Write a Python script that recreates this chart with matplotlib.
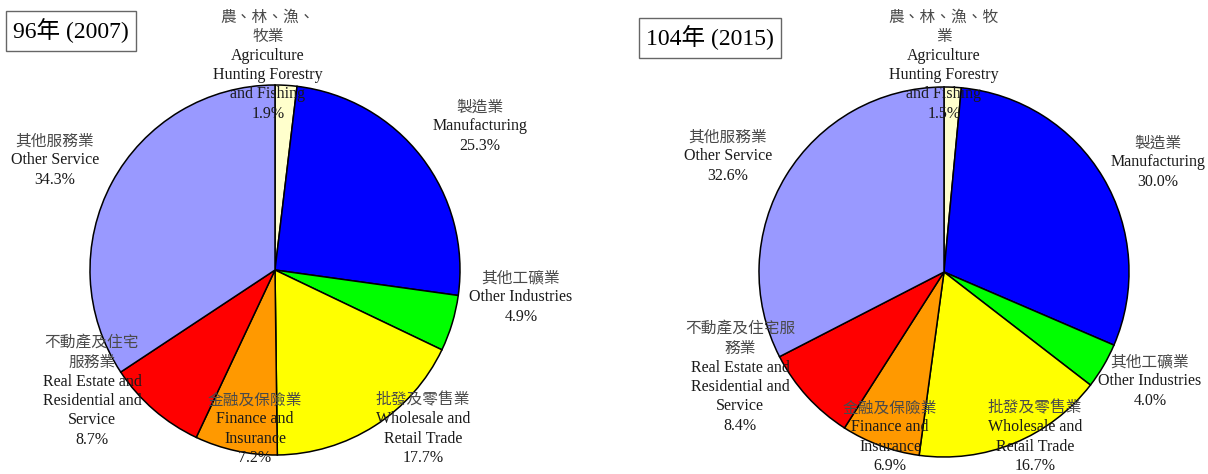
import matplotlib
matplotlib.use('Agg')
import matplotlib.pyplot as plt

# industry shares (%), clockwise from 12 o'clock
values_2007 = [1.9, 25.3, 4.9, 17.7, 7.2, 8.7, 34.3]
values_2015 = [1.5, 30.0, 4.0, 16.7, 6.9, 8.4, 32.6]
colors = ['#FFFFCC', '#0000FF', '#00FF00', '#FFFF00', '#FF9900', '#FF0000', '#9999FF']

zh_2007 = [['農、林、漁、', '牧業'], ['製造業'], ['其他工礦業'], ['批發及零售業'],
           ['金融及保險業'], ['不動產及住宅', '服務業'], ['其他服務業']]
zh_2015 = [['農、林、漁、牧', '業'], ['製造業'], ['其他工礦業'], ['批發及零售業'],
           ['金融及保險業'], ['不動產及住宅服', '務業'], ['其他服務業']]
en_names = [['Agriculture', 'Hunting Forestry', 'and Fishing'], ['Manufacturing'],
            ['Other Industries'], ['Wholesale and', 'Retail Trade'],
            ['Finance and', 'Insurance'], ['Real Estate and', 'Residential and', 'Service'],
            ['Other Service']]
titles = ['96年 (2007)', '104年 (2015)']

W, H = 1208, 474
fig = plt.figure(figsize=(W / 100, H / 100), dpi=100)
ax = fig.add_axes([0, 0, 1, 1])

# label anchors (x, y of first line, in pixels from top-left)
pos_2007 = [(268, 17), (480, 107), (521, 278), (423, 400), (255, 400), (92, 343), (55, 141)]
pos_2015 = [(944, 17), (1158, 143), (1150, 362), (1035, 408), (890, 408), (740, 329), (728, 137)]

cjk = ['Noto Sans CJK TC', 'DejaVu Sans']
serif = ['Liberation Serif', 'Noto Sans CJK TC']


def draw(vals, zh, pos, center, title, tpos):
    ax.pie(vals, colors=colors, startangle=90, counterclock=False,
           center=(center[0], H - center[1]), radius=185,
           wedgeprops=dict(edgecolor='black', linewidth=1.1))
    for v, z, e, (x, y) in zip(vals, zh, en_names, pos):
        lines = [(t, 'zh') for t in z] + [(t, 'en') for t in e] + [('%.1f%%' % v, 'en')]
        for i, (t, kind) in enumerate(lines):
            yy = H - (y + i * 19.3)
            if kind == 'zh':
                ax.text(x, yy, t, ha='center', va='center', fontsize=11.3,
                        family=cjk, color='#4a4a4a')
            else:
                ax.text(x, yy, t, ha='center', va='center', fontsize=11.5,
                        family=serif, color='#1a1a1a')
    ax.text(tpos[0], H - tpos[1], title, ha='left', va='center', fontsize=17,
            family=serif, color='black',
            bbox=dict(boxstyle='square,pad=0.3', fc='white', ec='#666666', lw=1))


draw(values_2007, zh_2007, pos_2007, (275, 270), titles[0], (13, 31))
draw(values_2015, zh_2015, pos_2015, (944, 272), titles[1], (646, 38))

ax.set_xlim(0, W)
ax.set_ylim(0, H)
ax.set_aspect('auto')
ax.axis('off')
fig.savefig('out.png', dpi=100)
